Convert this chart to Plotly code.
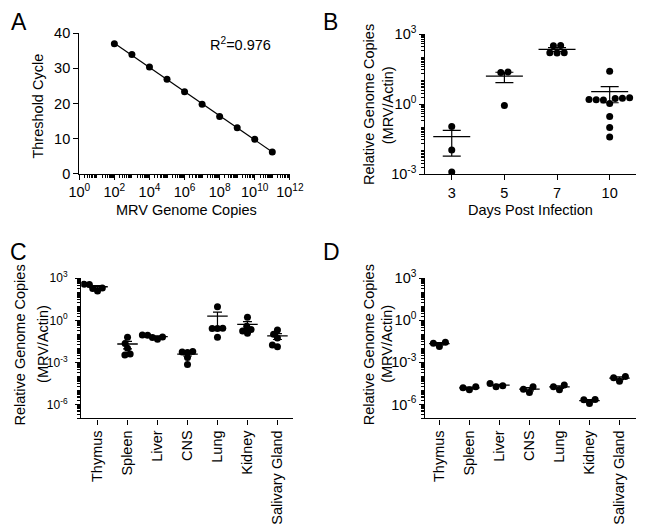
import numpy as np
import plotly.graph_objects as go

W, H = 650, 528
FONT = "Liberation Sans, Arial, Helvetica, sans-serif"

# ---------------- data ----------------
# Panel A: standard curve
std_copies = [1e2, 1e3, 1e4, 1e5, 1e6, 1e7, 1e8, 1e9, 1e10, 1e11]
std_ct = [37.0, 33.9, 30.4, 26.9, 23.3, 19.8, 16.3, 13.1, 9.8, 6.2]
r2_label = "R<sup>2</sup>=0.976"
a_xtick_exps = [0, 2, 4, 6, 8, 10, 12]
a_yticks = [0, 10, 20, 30, 40]

# Panel B: time course
days = ["3", "5", "7", "10"]
b_day3 = [0.11, 0.0108, 0.00125]
b_day5 = [23.7, 23.0, 0.87]
b_day7 = [330, 320, 160, 158, 156]
b_day10 = [26, 1.9, 1.8, 1.74, 1.58, 1.55, 1.5, 1.08, 0.30, 0.10, 0.039]
b_ytick_exps = [-3, 0, 3]

# Panels C and D: tissues
tissues = ["Thymus", "Spleen", "Liver", "CNS", "Lung", "Kidney", "Salivary Gland"]
c_thymus = [370, 350, 200, 185, 125]
c_spleen = [0.063, 0.022, 0.010, 0.0039, 0.0033]
c_liver = [0.09, 0.085, 0.065, 0.06, 0.045]
c_cns = [0.006, 0.0055, 0.005, 0.0022, 0.0007]
c_lung = [9.1, 0.27, 0.263, 0.256, 0.063]
c_kidney = [1.68, 0.384, 0.224, 0.173, 0.118]
c_salivary = [0.204, 0.102, 0.054, 0.017, 0.0129]

d_thymus = [0.0272, 0.0232, 0.0138]
d_spleen = [1.85e-5, 1.58e-5, 1.1e-5]
d_liver = [3.1e-5, 2.16e-5, 1.85e-5]
d_cns = [1.85e-5, 1.2e-5, 7.1e-6]
d_lung = [2.4e-5, 1.85e-5, 1.1e-5]
d_kidney = [2.3e-6, 2.2e-6, 1.19e-6]
d_salivary = [1.0e-4, 8.1e-5, 4.6e-5]
cd_ytick_exps = [-6, -3, 0, 3]

b_groups = [b_day3, b_day5, b_day7, b_day10]
c_groups = [c_thymus, c_spleen, c_liver, c_cns, c_lung, c_kidney, c_salivary]
d_groups = [d_thymus, d_spleen, d_liver, d_cns, d_lung, d_kidney, d_salivary]

# ---------------- layout geometry ----------------
PANELS = {
    "A": dict(xd=[71 / W, 290 / W], yd=[(H - 169.5) / H, (H - 24) / H]),
    "B": dict(xd=[431 / W, 1.0], yd=[(H - 170) / H, (H - 25) / H], xr=[-0.5, 3.5], yr=[-3, 3]),
    "C": dict(xd=[73 / W, 293 / W], yd=[(H - 422.9) / H, (H - 277.7) / H], xr=[-0.545, 6.51], yr=[-7, 3]),
    "D": dict(xd=[431 / W, 1.0], yd=[(H - 422.9) / H, (H - 277.7) / H], xr=[-0.465, 6.55], yr=[-7, 3]),
}


def scales(p):
    g = PANELS[p]
    pxu = (g["xd"][1] - g["xd"][0]) * W / (g["xr"][1] - g["xr"][0])
    pyd = (g["yd"][1] - g["yd"][0]) * H / (g["yr"][1] - g["yr"][0])
    return pxu, pyd


def swarm(vals, pyd, s, tol=1.5):
    """Beeswarm offsets (pixels) for points on a log axis."""
    y = np.log10(np.asarray(vals, float)) * pyd
    order = np.argsort(y, kind="stable")
    rows = []
    for i in order:
        if rows and y[i] - y[rows[-1][0]] < tol:
            rows[-1].append(i)
        else:
            rows.append([i])
    placed = []
    off = np.zeros(len(y))

    def ok(pos, idx):
        for p, i in zip(pos, idx):
            for qx, qy in placed:
                if (p - qx) ** 2 + (y[i] - qy) ** 2 < s * s - 1e-9:
                    return False
        return True

    for row in rows:
        n = len(row)
        if n == 1:
            configs = [[0.0]]
        else:
            configs = [[(k - (n - 1) / 2) * a for k in range(n)]
                       for a in np.arange(s, 3 * s + 0.01, 0.25)]
        chosen = None
        for pos in configs:
            if ok(pos, row):
                chosen = pos
                break
        if chosen is None:
            base = [(k - (n - 1) / 2) * s for k in range(n)]
            grid = sorted(np.arange(-80, 80.01, 0.25), key=lambda c: (abs(c), c))
            for c in grid:
                pos = [c + b for b in base]
                if ok(pos, row):
                    chosen = pos
                    break
        chosen = sorted(chosen, key=lambda p: (abs(p), p))
        for p, i in zip(chosen, row):
            off[i] = p
            placed.append((p, y[i]))
    return off


fig = go.Figure()


def add_group_panel(groups, panel, xa, ya, s, mean_len, cap_w):
    pxu, pyd = scales(panel)
    for gi, vals in enumerate(groups):
        off = swarm(vals, pyd, s)
        fig.add_trace(go.Scatter(
            x=gi + off / pxu, y=vals, mode="markers", xaxis=xa, yaxis=ya,
            marker=dict(color="black", size=7, line=dict(width=0)),
            hoverinfo="skip"))
        arr = np.asarray(vals, float)
        mean = arr.mean()
        sem = arr.std(ddof=1) / np.sqrt(len(arr))
        fig.add_trace(go.Scatter(
            x=[gi], y=[mean], mode="markers", xaxis=xa, yaxis=ya,
            marker=dict(symbol="line-ew-open", size=mean_len / 1.4,
                        color="black", line=dict(color="black", width=1.3)),
            error_y=dict(type="data", array=[sem], visible=True, color="black",
                         thickness=1.2, width=cap_w),
            hoverinfo="skip"))


# Panel A
fig.add_trace(go.Scatter(x=std_copies, y=std_ct, mode="markers", xaxis="x", yaxis="y",
                         marker=dict(color="black", size=7), hoverinfo="skip"))
lx = np.log10(np.asarray(std_copies))
k, b0 = np.polyfit(lx, np.asarray(std_ct), 1)
fit_x = np.array([lx.min(), lx.max()])
fig.add_trace(go.Scatter(x=10 ** fit_x, y=k * fit_x + b0, mode="lines", xaxis="x", yaxis="y",
                         line=dict(color="black", width=1.2), hoverinfo="skip"))

add_group_panel(b_groups, "B", "x2", "y2", 7.5, 37, 9)
add_group_panel(c_groups, "C", "x3", "y3", 5.5, 20.5, 4.5)
add_group_panel(d_groups, "D", "x4", "y4", 7.0, 20.5, 4.5)


def log_ticks(exps, lo, hi):
    vals = [10.0 ** e for e in exps]
    text = [f"10<sup>{e}</sup>" for e in exps]
    minor = []
    for kk in range(lo, hi + 1):
        for m in range(1, 10):
            if kk == hi and m > 1:
                continue
            if m == 1 and kk in exps:
                continue
            minor.append(m * 10.0 ** kk)
    return vals, text, minor


tickfont = dict(family=FONT, size=14.5, color="black")
small_tickfont = dict(family=FONT, size=12, color="black")
common = dict(showline=True, linecolor="black", linewidth=1.3, showgrid=False, zeroline=False,
              ticks="outside", tickcolor="black", tickwidth=1.2, ticklen=5, tickfont=tickfont,
              mirror=False)

ax_vals, ax_text, ax_minor = log_ticks(a_xtick_exps, 0, 12)
by_vals, by_text, by_minor = log_ticks(b_ytick_exps, -3, 3)
cy_vals, cy_text, cy_minor = log_ticks(cd_ytick_exps, -7, 3)


def minor(vals):
    return dict(tickmode="array", tickvals=vals, ticks="outside", ticklen=3,
                tickcolor="black", tickwidth=0.8)


fig.update_layout(
    width=W, height=H, margin=dict(l=0, r=0, t=0, b=0),
    paper_bgcolor="white", plot_bgcolor="white", showlegend=False,
    font=dict(family=FONT, color="black"),
    xaxis=dict(common, domain=PANELS["A"]["xd"], type="log", range=[0, 12],
               tickmode="array", tickvals=ax_vals, ticktext=ax_text,
               minor=minor(ax_minor), anchor="y"),
    yaxis=dict(common, domain=PANELS["A"]["yd"], range=[0, 40], tickmode="array",
               tickvals=a_yticks, ticktext=[str(t) for t in a_yticks], anchor="x"),
    xaxis2=dict(common, domain=PANELS["B"]["xd"], range=PANELS["B"]["xr"], tickmode="array",
                tickvals=list(range(len(days))), ticktext=days, anchor="y2"),
    yaxis2=dict(common, domain=PANELS["B"]["yd"], type="log", range=PANELS["B"]["yr"],
                tickmode="array", tickvals=by_vals, ticktext=by_text,
                minor=minor(by_minor), anchor="x2"),
    xaxis3=dict(common, domain=PANELS["C"]["xd"], range=PANELS["C"]["xr"], tickmode="array",
                tickvals=list(range(len(tissues))), ticktext=tissues, tickangle=-90,
                anchor="y3"),
    yaxis3=dict(common, domain=PANELS["C"]["yd"], type="log", range=PANELS["C"]["yr"],
                tickmode="array", tickvals=cy_vals, ticktext=cy_text, tickfont=small_tickfont,
                minor=minor(cy_minor), anchor="x3", ticklabelstandoff=5),
    xaxis4=dict(common, domain=PANELS["D"]["xd"], range=PANELS["D"]["xr"], tickmode="array",
                tickvals=list(range(len(tissues))), ticktext=tissues, tickangle=-90,
                anchor="y4"),
    yaxis4=dict(common, domain=PANELS["D"]["yd"], type="log", range=PANELS["D"]["yr"],
                tickmode="array", tickvals=cy_vals, ticktext=cy_text,
                minor=minor(cy_minor), anchor="x4"),
)


def ann(text, xpx, ypx, size=14.5, angle=0):
    fig.add_annotation(text=text, x=xpx / W, y=1 - ypx / H, xref="paper", yref="paper",
                       xanchor="center", yanchor="middle", showarrow=False, textangle=angle,
                       font=dict(family=FONT, size=size, color="black"))


# panel letters
ann("A", 8, 12, 23)
ann("B", 332, 12, 23)
ann("C", 8, 251, 23)
ann("D", 333, 251, 23)
# axis titles
ann("Threshold Cycle", 28, 99, angle=-90)
ann("MRV Genome Copies", 182, 207)
ann(r2_label, 239, 35)
ann("Relative Genome Copies", 371.7, 98, angle=-90)
ann("(MRV/Actin)", 391.7, 99, angle=-90)
ann("Days Post Infection", 540.5, 207)
ann("Relative Genome Copies", 9, 346.7, angle=-90)
ann("(MRV/Actin)", 33, 346, angle=-90)
ann("Relative Genome Copies", 371.7, 346.7, angle=-90)
ann("(MRV/Actin)", 391.7, 346, angle=-90)

fig.write_html("out.html", config={"displayModeBar": False},
               post_script="document.body.style.margin='0';document.body.style.overflow='hidden';")
